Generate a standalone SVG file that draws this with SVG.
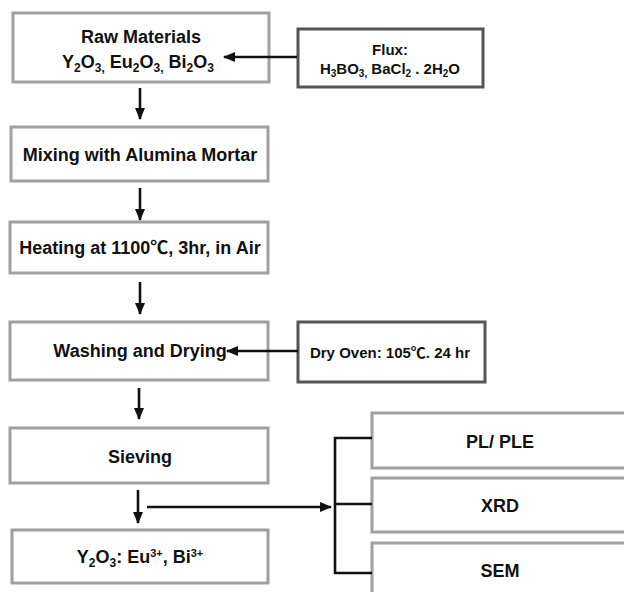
<svg xmlns="http://www.w3.org/2000/svg" width="624" height="592" viewBox="0 0 624 592">
<style>
.box{fill:#fff;stroke:#a0a0a0;stroke-width:3}
.dbox{fill:#fff;stroke:#555;stroke-width:3}
.t{font-family:"Liberation Sans",Arial,"Noto Sans CJK KR",sans-serif;font-weight:bold;font-size:18px;fill:#111;text-anchor:middle}
.s{font-size:15px}
.conn{fill:none;stroke:#111;stroke-width:2.6}
</style>
<defs>
<marker id="ah" markerUnits="userSpaceOnUse" markerWidth="12" markerHeight="10" viewBox="0 0 12 10" refX="11" refY="5" orient="auto">
<path d="M0,0 L12,5 L0,10 Z" fill="#111"/>
</marker>
</defs>
<g id="raw">
<rect class="box" x="13" y="13" width="256" height="69"/>
<text class="t" x="141" y="43" font-size="17.5">Raw Materials</text>
<text class="t" x="138" y="68">Y<tspan font-size="12" dy="4">2</tspan><tspan dy="-4">O</tspan><tspan font-size="12" dy="4">3,</tspan><tspan dy="-4"> Eu</tspan><tspan font-size="12" dy="4">2</tspan><tspan dy="-4">O</tspan><tspan font-size="12" dy="4">3,</tspan><tspan dy="-4"> Bi</tspan><tspan font-size="12" dy="4">2</tspan><tspan dy="-4">O</tspan><tspan font-size="12" dy="4">3</tspan></text>
</g>
<g id="flux">
<rect class="dbox" x="298" y="29" width="185" height="58"/>
<text class="t s" x="390" y="55">Flux:</text>
<text class="t s" x="390" y="74">H<tspan font-size="10" dy="3">3</tspan><tspan dy="-3">BO</tspan><tspan font-size="10" dy="3">3,</tspan><tspan dy="-3"> BaCl</tspan><tspan font-size="10" dy="3">2</tspan><tspan dy="-3"> . 2H</tspan><tspan font-size="10" dy="3">2</tspan><tspan dy="-3">O</tspan></text>
</g>
<g id="mixing">
<rect class="box" x="11" y="127" width="257" height="54"/>
<text class="t" x="140" y="161">Mixing with Alumina Mortar</text>
</g>
<g id="heating">
<rect class="box" x="10" y="222" width="258" height="51"/>
<text class="t" x="140" y="254">Heating at 1100℃, 3hr, in Air</text>
</g>
<g id="washing">
<rect class="box" x="10" y="322" width="258" height="58"/>
<text class="t" x="140" y="357">Washing and Drying</text>
</g>
<g id="oven">
<rect class="dbox" x="298" y="322" width="187" height="60"/>
<text class="t s" x="390" y="358">Dry Oven: 105℃. 24 hr</text>
</g>
<g id="sieving">
<rect class="box" x="10" y="428" width="258" height="55"/>
<text class="t" x="140" y="463">Sieving</text>
</g>
<g id="product">
<rect class="box" x="12" y="530" width="256" height="53"/>
<text class="t" x="140" y="563">Y<tspan font-size="12" dy="4">2</tspan><tspan dy="-4">O</tspan><tspan font-size="12" dy="4">3</tspan><tspan dy="-4">: Eu</tspan><tspan font-size="11" dy="-6">3+</tspan><tspan dy="6">, Bi</tspan><tspan font-size="11" dy="-6">3+</tspan></text>
</g>
<g id="plple">
<rect class="box" x="372" y="413" width="262" height="55"/>
<text class="t" x="500" y="448">PL/ PLE</text>
</g>
<g id="xrd">
<rect class="box" x="372" y="478" width="262" height="54"/>
<text class="t" x="500" y="512">XRD</text>
</g>
<g id="sem">
<rect class="box" x="372" y="543" width="262" height="60"/>
<text class="t" x="500" y="577">SEM</text>
</g>
<g id="connectors">
<line class="conn" x1="297" y1="57" x2="224" y2="57" marker-end="url(#ah)"/>
<line class="conn" x1="140" y1="88" x2="140" y2="119" marker-end="url(#ah)"/>
<line class="conn" x1="140" y1="188" x2="140" y2="220" marker-end="url(#ah)"/>
<line class="conn" x1="140" y1="282" x2="140" y2="314" marker-end="url(#ah)"/>
<line class="conn" x1="298" y1="351" x2="227" y2="351" marker-end="url(#ah)"/>
<line class="conn" x1="139" y1="388" x2="139" y2="419" marker-end="url(#ah)"/>
<line class="conn" x1="138" y1="490" x2="138" y2="523" marker-end="url(#ah)"/>
<line class="conn" x1="147" y1="507" x2="331" y2="507" marker-end="url(#ah)"/>
<path class="conn" d="M372,438 H335 V573 H372 M335,504 H372"/>
</g>
</svg>
